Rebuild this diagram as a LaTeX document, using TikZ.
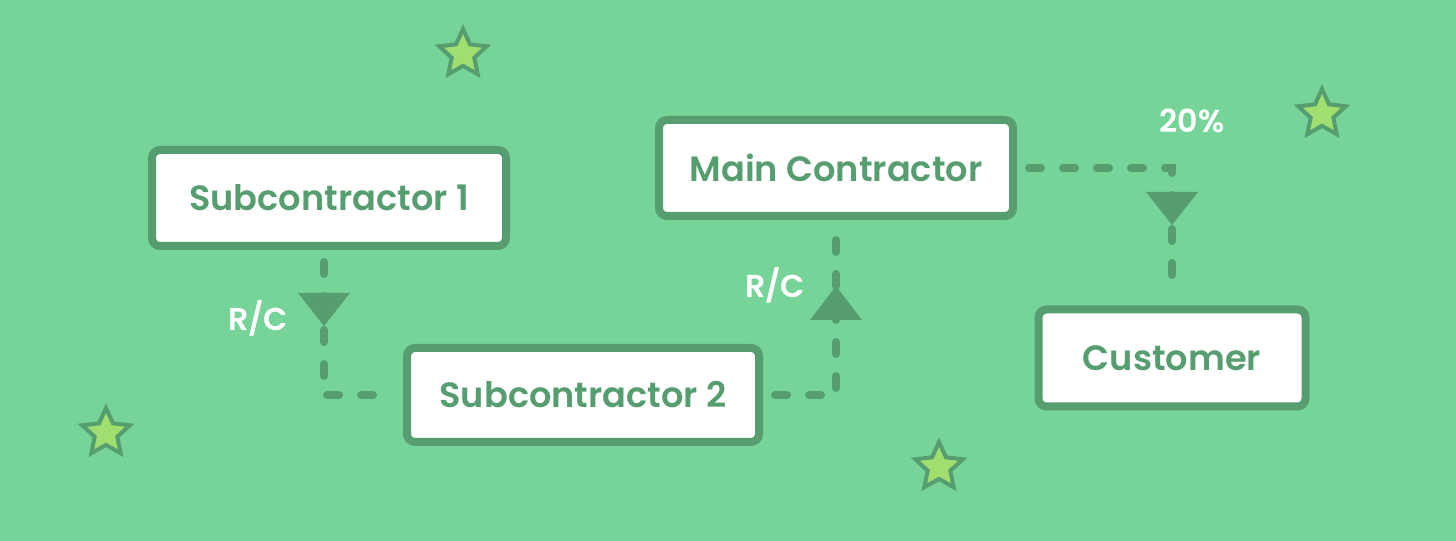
\documentclass[tikz,border=0pt]{standalone}
\usepackage{fontspec}
\setmainfont{Poppins}[BoldFont=* SemiBold]
\usetikzlibrary{shapes.geometric}
\definecolor{bggreen}{RGB}{119,212,153}
\definecolor{darkgreen}{RGB}{86,158,112}
\definecolor{stargreen}{RGB}{160,222,112}
\begin{document}
\begin{tikzpicture}[
	party/.style={draw=darkgreen, line width=0.08cm, fill=white, rounded corners=0.08cm,
		minimum height=0.96cm, text=darkgreen, font=\bfseries\fontsize{10}{12}\selectfont},
	flow/.style={draw=darkgreen, line width=0.08cm, line cap=round,
		dash pattern=on 0.12cm off 0.22cm, shorten <=0.12cm, shorten >=0.1cm},
	tag/.style={text=white, font=\bfseries\fontsize{9}{11}\selectfont},
	starry/.style={star, star points=5, star point ratio=2.1, minimum size=0.5cm,
		inner sep=0pt, draw=darkgreen, line width=0.04cm, fill=stargreen}]
	\useasboundingbox (0,0) rectangle (14.56,-5.41);
	\fill[bggreen] (0,0) rectangle (14.56,-5.41);
	% stars
	\node[starry] (star1) at (4.63,-0.54) {};
	\node[starry] (star2) at (13.22,-1.14) {};
	\node[starry] (star3) at (1.06,-4.33) {};
	\node[starry] (star4) at (9.39,-4.67) {};
	% parties
	\node[party, minimum width=3.54cm] (sub1) at (3.29,-1.98) {Subcontractor 1};
	\node[party, minimum width=3.52cm, minimum height=0.94cm] (sub2) at (5.83,-3.95) {Subcontractor 2};
	\node[party, minimum width=3.54cm] (main) at (8.36,-1.68) {Main Contractor};
	\node[party, minimum width=2.67cm, minimum height=0.97cm] (cust) at (11.72,-3.58) {Customer};
	% connectors
	\draw[flow] ([xshift=-0.05cm]sub1.south) |- (sub2.west);
	\draw[flow] (sub2.east) -| (main.south);
	\draw[flow] (main.east) -| (cust.north);
	% arrowheads
	\coordinate (tip1) at ([xshift=-0.05cm]sub1.south |- 0,-3.26);
	\coordinate (tip2) at (main.south |- 0,-2.86);
	\coordinate (tip3) at (cust.north |- 0,-2.25);
	\fill[darkgreen] (tip1) -- ++(-0.26,0.33) -- ++(0.52,0) -- cycle;
	\fill[darkgreen] (tip2) -- ++(-0.26,-0.34) -- ++(0.52,0) -- cycle;
	\fill[darkgreen] (tip3) -- ++(-0.26,0.33) -- ++(0.52,0) -- cycle;
	% labels
	\node[tag] (rc1) at (2.58,-3.18) {R/C};
	\node[tag] (rc2) at (7.75,-2.85) {R/C};
	\node[tag] (pct) at (11.92,-1.21) {20\%};
\end{tikzpicture}
\end{document}
